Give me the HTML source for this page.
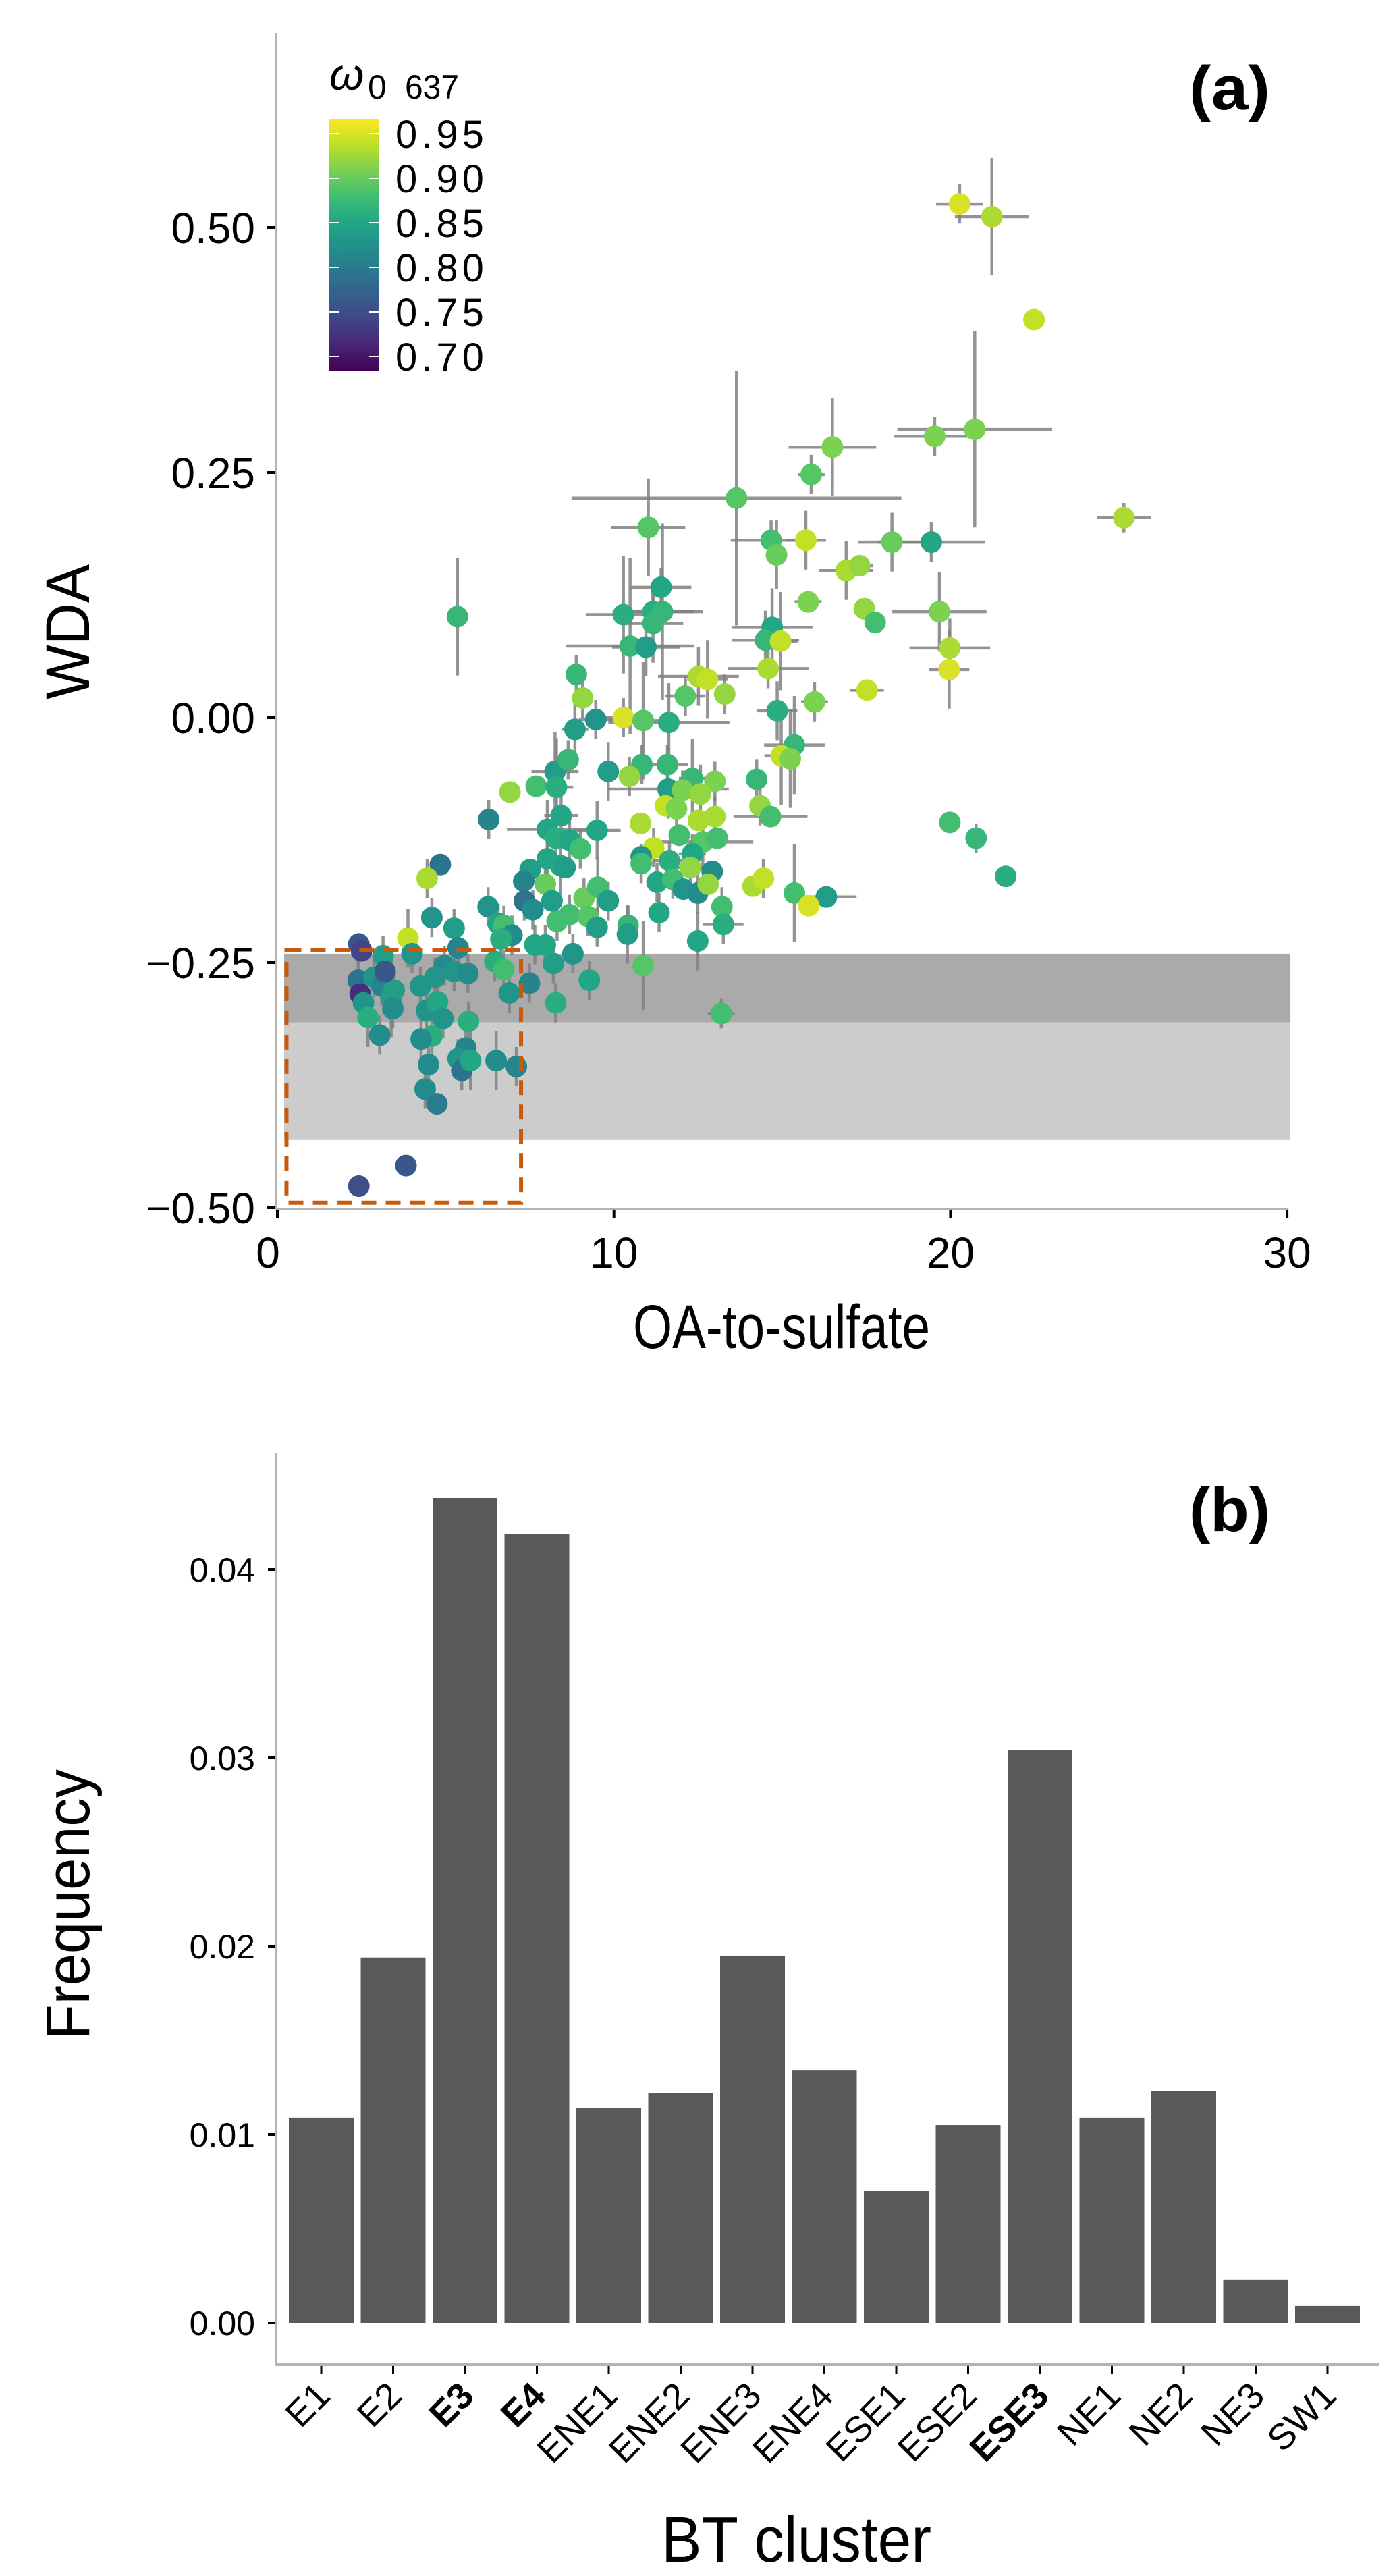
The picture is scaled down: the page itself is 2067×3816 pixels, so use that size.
<!DOCTYPE html>
<html><head><meta charset="utf-8"><style>
html,body{margin:0;padding:0;background:#fff}
svg{display:block}
text{font-family:"Liberation Sans",sans-serif}
</style></head><body>
<svg id="fig" xmlns="http://www.w3.org/2000/svg" width="2067" height="3816" viewBox="0 0 2067 3816">
<defs>
<linearGradient id="vir" x1="0" y1="1" x2="0" y2="0">
<stop offset="0" stop-color="#440154"/><stop offset="0.1" stop-color="#482475"/><stop offset="0.2" stop-color="#414487"/><stop offset="0.3" stop-color="#355f8d"/><stop offset="0.4" stop-color="#2a788e"/><stop offset="0.5" stop-color="#21918c"/><stop offset="0.6" stop-color="#22a884"/><stop offset="0.7" stop-color="#44bf70"/><stop offset="0.8" stop-color="#7ad151"/><stop offset="0.9" stop-color="#bddf26"/><stop offset="1" stop-color="#fde725"/>
</linearGradient>
</defs>
<g id="panelA"></g>
<g id="panelB"></g>
</svg>
<script>
// ---- Panel (a) data ----
const oaX=[20.27,21.23,22.48,20.72,19.53,16.49,15.86,13.64,25.15,11.02,14.67,15.7,18.26,19.43,14.83,16.9,17.3,11.4,15.77,17.44,17.76,19.67,10.28,11.16,11.44,5.35,11.16,10.48,10.95,19.98,14.7,14.5,14.95,19.96,14.58,8.88,12.51,12.78,9.07,12.12,13.29,17.52,15.96,10.28,10.87,11.63,9.46,8.84,14.85,15.36,14.97,15.24,9.83,8.25,8.64,10.83,11.59,10.46,14.24,12.33,13.0,11.61,12.04,12.57,6.91,7.69,8.29,6.28,11.53,11.86,14.34,14.65,8.43,8.02,9.5,10.79,12.51,13.0,19.98,20.76,11.94,12.64,13.07,8.27,8.68,9.0,11.18,10.81,11.65,12.33,10.81,12.27,4.84,4.45,8.02,8.41,8.55,7.51,12.92,7.32,11.28,11.75,12.06,12.49,12.8,14.13,14.44,15.36,16.31,21.64,15.79,7.34,7.96,8.16,9.11,9.52,9.83,7.59,6.26,8.68,9.23,8.31,9.5,10.42,10.4,11.34,13.21,13.25,12.49,10.87,13.19,4.59,5.25,3.88,5.37,4.0,2.42,2.5,3.14,6.56,6.73,6.97,6.64,6.46,6.73,6.89,7.49,7.65,7.96,8.2,8.78,9.27,8.27,4.96,4.68,4.25,5.25,5.66,2.4,2.87,3.1,3.47,2.46,2.56,3.2,3.38,3.43,2.69,3.04,4.43,4.76,4.92,5.68,4.59,4.27,4.49,5.6,5.37,5.48,5.74,6.5,7.1,4.39,4.74,3.82,2.42];
const wdaY=[0.524,0.511,0.406,0.294,0.287,0.276,0.248,0.224,0.204,0.194,0.181,0.181,0.179,0.179,0.166,0.15,0.155,0.133,0.118,0.111,0.097,0.108,0.105,0.108,0.108,0.103,0.096,0.073,0.072,0.071,0.092,0.079,0.078,0.049,0.05,0.044,0.042,0.039,0.02,0.022,0.024,0.028,0.016,0.0,-0.003,-0.005,-0.002,-0.012,0.007,-0.028,-0.039,-0.042,-0.055,-0.055,-0.043,-0.048,-0.048,-0.06,-0.063,-0.062,-0.065,-0.073,-0.074,-0.078,-0.076,-0.07,-0.071,-0.104,-0.09,-0.093,-0.09,-0.101,-0.1,-0.114,-0.115,-0.108,-0.105,-0.101,-0.107,-0.123,-0.12,-0.127,-0.123,-0.123,-0.125,-0.134,-0.133,-0.142,-0.146,-0.139,-0.149,-0.153,-0.15,-0.164,-0.144,-0.151,-0.153,-0.155,-0.157,-0.167,-0.168,-0.165,-0.175,-0.179,-0.17,-0.172,-0.164,-0.179,-0.183,-0.162,-0.192,-0.187,-0.17,-0.187,-0.184,-0.173,-0.187,-0.196,-0.193,-0.201,-0.203,-0.208,-0.214,-0.212,-0.221,-0.199,-0.193,-0.211,-0.228,-0.253,-0.302,-0.204,-0.215,-0.225,-0.235,-0.241,-0.231,-0.238,-0.243,-0.21,-0.212,-0.222,-0.226,-0.249,-0.257,-0.281,-0.271,-0.232,-0.232,-0.251,-0.241,-0.268,-0.291,-0.253,-0.265,-0.274,-0.259,-0.261,-0.268,-0.265,-0.274,-0.278,-0.282,-0.291,-0.259,-0.286,-0.297,-0.306,-0.324,-0.299,-0.29,-0.307,-0.31,-0.325,-0.328,-0.354,-0.337,-0.348,-0.36,-0.35,-0.35,-0.356,-0.379,-0.394,-0.457,-0.478];
const omega=[0.95,0.93,0.94,0.91,0.91,0.91,0.89,0.89,0.93,0.89,0.88,0.94,0.90,0.85,0.90,0.93,0.92,0.85,0.91,0.92,0.88,0.91,0.86,0.86,0.87,0.87,0.87,0.87,0.84,0.93,0.85,0.87,0.94,0.95,0.93,0.87,0.93,0.94,0.92,0.89,0.92,0.94,0.91,0.95,0.89,0.86,0.83,0.84,0.86,0.87,0.94,0.91,0.84,0.84,0.87,0.87,0.87,0.92,0.87,0.87,0.91,0.84,0.91,0.92,0.92,0.88,0.86,0.81,0.94,0.91,0.92,0.88,0.85,0.85,0.85,0.93,0.93,0.93,0.88,0.87,0.88,0.89,0.88,0.86,0.85,0.88,0.94,0.83,0.86,0.85,0.88,0.92,0.79,0.93,0.85,0.85,0.84,0.84,0.82,0.81,0.85,0.88,0.83,0.82,0.92,0.93,0.94,0.88,0.84,0.86,0.95,0.79,0.90,0.84,0.90,0.88,0.84,0.82,0.83,0.88,0.89,0.88,0.84,0.87,0.84,0.85,0.88,0.86,0.85,0.89,0.88,0.83,0.84,0.94,0.81,0.83,0.76,0.74,0.84,0.85,0.88,0.82,0.86,0.86,0.88,0.83,0.81,0.85,0.85,0.84,0.83,0.85,0.86,0.82,0.83,0.83,0.83,0.82,0.79,0.83,0.81,0.84,0.72,0.83,0.76,0.84,0.82,0.86,0.82,0.83,0.85,0.83,0.86,0.86,0.82,0.82,0.81,0.83,0.79,0.85,0.82,0.81,0.82,0.80,0.76,0.75];
const xErr=[0.7,1.1,0,2.3,1.2,1.3,0.4,4.9,0.8,1.1,1.2,0.6,1.0,1.6,0.3,0.8,0.4,0.9,0.4,0.3,0,1.4,1.1,1.2,1.2,0.3,0.9,1.9,1.0,1.2,1.2,1.0,0.5,0.6,1.2,0.2,1.2,0.6,0.2,0.6,0.3,0.5,0.4,0.8,1.0,1.8,0.5,0.4,0.6,0.9,0.5,0.3,0.2,0.7,0.3,0.3,0.6,0.2,0.2,0.4,0.3,1.8,0.3,0.3,0.2,0.2,0.5,0.2,0,0.3,0.3,1.1,0.5,1.2,0.7,0.2,0.2,0.2,0.3,0.2,0.2,1.5,0.3,0.3,0.3,0.3,0.3,0.3,0.5,0.4,0.2,0.4,0,0,0.3,0.3,0.3,0.3,0.3,0.3,0.3,0.3,0.3,0.3,0.3,0.2,0.3,0.3,0.9,0,0,0.3,0.2,0.3,0.3,0.3,0.3,0.3,0.3,0.3,0.3,0.3,0.3,0.3,0.3,0.3,0.3,0.6,0.3,0.2,0.4,0.3,0.3,0,0,0,0,0,0,0.2,0.2,0.2,0.2,0.2,0.2,0.2,0.2,0.2,0.2,0.2,0.2,0.2,0.2,0.2,0.2,0.2,0.2,0.2,0.2,0.2,0.2,0.2,0.2,0.2,0.2,0.2,0.2,0.2,0.2,0.2,0.2,0.2,0.2,0.2,0.2,0.2,0.2,0.2,0.2,0.2,0.2,0.2,0.2,0,0];
const yErr=[0.02,0.06,0,0.1,0.02,0.05,0.02,0.13,0.015,0.05,0.02,0.03,0.03,0.02,0.035,0.03,0.01,0.02,0.01,0.01,0,0.04,0.06,0.02,0.09,0.06,0.04,0.09,0.03,0.03,0.04,0.03,0.05,0.04,0.02,0.02,0.03,0.04,0.02,0.02,0.02,0.01,0.02,0.02,0.06,0.04,0.02,0.03,0.03,0.05,0.05,0.05,0.03,0.04,0.02,0.02,0.02,0.02,0.02,0.04,0.02,0.03,0.02,0.03,0.01,0.01,0.05,0.02,0.01,0.02,0.02,0.01,0.02,0.03,0.03,0.01,0.01,0.02,0.01,0.015,0.01,0.03,0.01,0.02,0.03,0.02,0.02,0.01,0.02,0.02,0.02,0.02,0,0.02,0.02,0.03,0.01,0.01,0.01,0.02,0.02,0.02,0.01,0.02,0.01,0.01,0.02,0.05,0.01,0,0.01,0.02,0.02,0.02,0.02,0.03,0.02,0.02,0.02,0.02,0.02,0.02,0.02,0.02,0.03,0.02,0.02,0.02,0.03,0.045,0.015,0.02,0.02,0.03,0.02,0.02,0,0,0.02,0.02,0.02,0.02,0.02,0.02,0.02,0.02,0.02,0.02,0.02,0.02,0.02,0.02,0.02,0.02,0.02,0.02,0.02,0.02,0.02,0.02,0.02,0.02,0.02,0.02,0.02,0.04,0.02,0.03,0.02,0.02,0.02,0.02,0.02,0.02,0.02,0.02,0.02,0.02,0.02,0.03,0.03,0.02,0.02,0.01,0.01];
const xTicksA=[0,10,20,30];
const yTicksA=[0.50,0.25,0.00,-0.25,-0.50];
const legendTicks=[0.95,0.90,0.85,0.80,0.75,0.70];
// ---- Panel (b) data ----
const clusters=["E1","E2","E3","E4","ENE1","ENE2","ENE3","ENE4","ESE1","ESE2","ESE3","NE1","NE2","NE3","SW1"];
const freq=[0.0109,0.0194,0.0438,0.0419,0.0114,0.0122,0.0195,0.0134,0.0070,0.0105,0.0304,0.0109,0.0123,0.0023,0.0009];
const boldClusters=["E3","E4","ESE3"];
const yTicksB=[0.00,0.01,0.02,0.03,0.04];

const NS="http://www.w3.org/2000/svg";
function mk(parent,tag,attrs,txt){const e=document.createElementNS(NS,tag);for(const k in attrs)e.setAttribute(k,attrs[k]);if(txt!==undefined)e.textContent=txt;parent.appendChild(e);return e;}

const vstops=["#440154","#482475","#414487","#355f8d","#2a788e","#21918c","#22a884","#44bf70","#7ad151","#bddf26","#fde725"];
function hex(h){return[parseInt(h.substr(1,2),16),parseInt(h.substr(3,2),16),parseInt(h.substr(5,2),16)];}
function viridis(v){let t=(v-0.683)/(0.966-0.683);t=Math.max(0,Math.min(1,t));const p=t*10,i=Math.min(9,Math.floor(p)),f=p-i;const a=hex(vstops[i]),b=hex(vstops[i+1]);return"rgb("+a.map((c,k)=>Math.round(c+(b[k]-c)*f)).join(",")+")";}

// ===== Panel A =====
const A=document.getElementById('panelA');
const ax=v=>411+v*49.87;
const ay=v=>1063-v*1452;
let e;
e=mk(A,'rect',{x:ax(0.2),y:ay(-0.241),width:ax(30.1)-ax(0.2),height:ay(-0.311)-ay(-0.241),fill:'#aaaaaa'});


e=mk(A,'rect',{x:ax(0.2),y:ay(-0.311),width:ax(30.1)-ax(0.2),height:ay(-0.431)-ay(-0.311),fill:'#cccccc'});


const eg=mk(A,'g',{stroke:'#808080','stroke-width':4.5,'stroke-opacity':0.85});


for(let i=0;i<oaX.length;i++){
 if(xErr[i]>0){e=mk(eg,'line',{x1:ax(oaX[i]-xErr[i]),x2:ax(oaX[i]+xErr[i]),y1:ay(wdaY[i]),y2:ay(wdaY[i])});
 
 }
 if(yErr[i]>0){e=mk(eg,'line',{x1:ax(oaX[i]),x2:ax(oaX[i]),y1:ay(wdaY[i]-yErr[i]),y2:ay(wdaY[i]+yErr[i])});
 
 }
}
for(let i=0;i<oaX.length;i++){
 e=mk(A,'circle',{cx:ax(oaX[i]),cy:ay(wdaY[i]),r:16,fill:viridis(omega[i])});
 
 
}
e=mk(A,'rect',{x:ax(0.27),y:ay(-0.2375),width:ax(7.24)-ax(0.27),height:ay(-0.495)-ay(-0.2375),fill:'none',stroke:'#c85a0a','stroke-width':6,'stroke-dasharray':'22,14'});


e=mk(A,'line',{x1:409,x2:409,y1:49,y2:1791,stroke:'#b3b3b3','stroke-width':4});


e=mk(A,'line',{x1:407,x2:ax(30)+2,y1:1791,y2:1791,stroke:'#b3b3b3','stroke-width':4});


for(const t of yTicksA){
 e=mk(A,'line',{x1:396,x2:407,y1:ay(t),y2:ay(t),stroke:'#000','stroke-width':4});
 
 
 e=mk(A,'text',{x:378,y:ay(t)+23,'font-size':64,'text-anchor':'end',fill:'#000'},(t<0?'\u2212':'')+Math.abs(t).toFixed(2));
 
 
}
for(const t of xTicksA){
 e=mk(A,'line',{x1:ax(t),x2:ax(t),y1:1793,y2:1805,stroke:'#000','stroke-width':4});
 
 
 e=mk(A,'text',{x:ax(t)-(t===0?14:0),y:1878,'font-size':64,'text-anchor':'middle',fill:'#000'},String(t));
 
 
}
e=mk(A,'text',{x:1158,y:1997,'font-size':92,'text-anchor':'middle',textLength:440,lengthAdjust:'spacingAndGlyphs'},'OA-to-sulfate');


e=mk(A,'text',{x:0,y:0,'font-size':92,'text-anchor':'middle',transform:'translate(132,936) rotate(-90)',textLength:200,lengthAdjust:'spacingAndGlyphs'},'WDA');


e=mk(A,'text',{x:1882,y:162,'font-size':92,'font-weight':'bold','text-anchor':'end',textLength:120,lengthAdjust:'spacingAndGlyphs'},'(a)');


const lg=mk(A,'g',{});


e=mk(lg,'rect',{x:487,y:177,width:75,height:373,fill:'url(#vir)'});


const ly=v=>198+(0.95-v)/0.05*66;
for(const t of legendTicks){
 mk(lg,'line',{x1:487,x2:502,y1:ly(t),y2:ly(t),stroke:'#fff','stroke-width':2});
 mk(lg,'line',{x1:547,x2:562,y1:ly(t),y2:ly(t),stroke:'#fff','stroke-width':2});
 e=mk(lg,'text',{x:586,y:ly(t)+21,'font-size':58,'font-family':'DejaVu Sans, sans-serif','letter-spacing':'6'},t.toFixed(2));
 
 
}
e=mk(lg,'text',{x:488,y:133,'font-size':66,'font-style':'italic','font-family':'Liberation Serif, serif'},'\u03c9');


mk(lg,'text',{x:545,y:146,'font-size':50},'0');
mk(lg,'text',{x:600,y:146,'font-size':50,textLength:80,lengthAdjust:'spacingAndGlyphs'},'637');

// ===== Panel B =====
const B=document.getElementById('panelB');
const by=v=>3441-v*27900;
const bx=i=>476+i*106.5;
for(let i=0;i<clusters.length;i++){
 e=mk(B,'rect',{x:bx(i)-48,y:by(freq[i]),width:96,height:by(0)-by(freq[i]),fill:'#595959'});
 
 
}
e=mk(B,'line',{x1:409,x2:409,y1:2152,y2:3505,stroke:'#b3b3b3','stroke-width':4});


e=mk(B,'line',{x1:407,x2:2043,y1:3503,y2:3503,stroke:'#b3b3b3','stroke-width':4});


for(const t of yTicksB){
 e=mk(B,'line',{x1:397,x2:407,y1:by(t),y2:by(t),stroke:'#000','stroke-width':4});
 
 
 e=mk(B,'text',{x:378,y:by(t)+18,'font-size':50,'text-anchor':'end'},t.toFixed(2));
 
 
}
for(let i=0;i<clusters.length;i++){
 e=mk(B,'line',{x1:bx(i),x2:bx(i),y1:3505,y2:3517,stroke:'#000','stroke-width':3});
 
 
 const b=boldClusters.includes(clusters[i]);
 e=mk(B,'text',{x:0,y:0,'font-size':54,'text-anchor':'end','font-weight':b?'bold':'normal',transform:'translate('+(bx(i)+16)+',3552) rotate(-45)'},clusters[i]);
 
 
}
e=mk(B,'text',{x:1180,y:3795,'font-size':96,'text-anchor':'middle',textLength:400,lengthAdjust:'spacingAndGlyphs'},'BT cluster');


e=mk(B,'text',{x:0,y:0,'font-size':92,'text-anchor':'middle',transform:'translate(132,2821) rotate(-90)',textLength:400,lengthAdjust:'spacingAndGlyphs'},'Frequency');


e=mk(B,'text',{x:1882,y:2268,'font-size':92,'font-weight':'bold','text-anchor':'end',textLength:120,lengthAdjust:'spacingAndGlyphs'},'(b)');


</script>
</body></html>
